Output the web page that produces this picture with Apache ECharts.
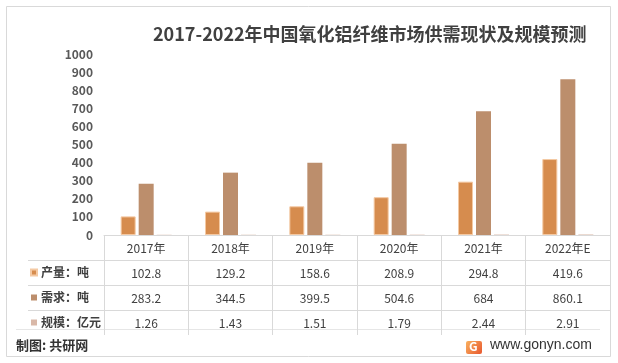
<!DOCTYPE html>
<html>
<head>
<meta charset="utf-8">
<script src="https://cdn.jsdelivr.net/npm/echarts@6/dist/echarts.min.js"></script>
<style>
html,body{margin:0;padding:0;background:#fff;}
#main{width:618px;height:363px;}
</style>
</head>
<body>
<div id="main"></div>
<script>
var categories = ['2017年', '2018年', '2019年', '2020年', '2021年', '2022年E'];
var production = [102.8, 129.2, 158.6, 208.9, 294.8, 419.6];
var demand = [283.2, 344.5, 399.5, 504.6, 684, 860.1];
var scale = [1.26, 1.43, 1.51, 1.79, 2.44, 2.91];
var seriesNames = ['产量：吨', '需求：吨', '规模：亿元'];
var yTicks = [0, 100, 200, 300, 400, 500, 600, 700, 800, 900, 1000];

var FONT = '"Noto Sans CJK SC", "Noto Sans", sans-serif';
var chart = echarts.init(document.getElementById('main'), null, {renderer: 'canvas'});

function rowAxis(values, offset) {
  return {
    type: 'category', data: categories, position: 'bottom', offset: offset,
    axisLine: {show: false}, axisTick: {show: false}, splitLine: {show: false},
    axisLabel: {margin: 7, fontSize: 12, color: '#404040', fontFamily: FONT,
      formatter: function (v, i) { return String(values[i]); }}
  };
}

var option = {
  backgroundColor: '#ffffff',
  animation: false,
  title: {
    text: '2017-2022年中国氧化铝纤维市场供需现状及规模预测',
    left: 148, top: 20,
    textStyle: {fontSize: 18, fontWeight: 'bold', color: '#404040', fontFamily: FONT}
  },
  legend: {
    orient: 'vertical', left: 30, top: 260, itemGap: 0, padding: 0,
    itemWidth: 6, itemHeight: 6, icon: 'rect', selectedMode: false,
    textStyle: {fontSize: 12, fontWeight: 'bold', color: '#404040', fontFamily: FONT, lineHeight: 25, padding: [0, 0, 0, -1]},
    data: seriesNames
  },
  grid: {left: 104, right: 8, top: 54, bottom: 128, containLabel: false},
  xAxis: [
    {
      type: 'category', data: categories, position: 'bottom',
      axisLine: {lineStyle: {color: '#d9d9d9', width: 1}},
      axisTick: {show: true, length: 100, alignWithLabel: false, lineStyle: {color: '#d9d9d9'}},
      axisLabel: {margin: 7, fontSize: 12, color: '#404040', fontFamily: FONT}
    },
    rowAxis(production, 25),
    rowAxis(demand, 50),
    rowAxis(scale, 75)
  ],
  yAxis: {
    type: 'value', min: yTicks[0], max: yTicks[yTicks.length - 1], interval: 100,
    axisLine: {show: false}, axisTick: {show: false}, splitLine: {show: false},
    axisLabel: {margin: 11, fontSize: 12, fontWeight: 'bold', color: '#595959', fontFamily: FONT,
      formatter: function (v) { return String(v); }}
  },
  series: [
    {name: seriesNames[0], type: 'bar', data: production, barWidth: 15, barGap: '20%',
      itemStyle: {color: '#D68C4E', borderColor: '#F4C9A3', borderWidth: 1}},
    {name: seriesNames[1], type: 'bar', data: demand, barWidth: 15, barGap: '20%',
      itemStyle: {color: '#BC8E6C'}},
    {name: seriesNames[2], type: 'bar', data: scale, barWidth: 15, barGap: '20%',
      itemStyle: {color: '#D9B8A8'}}
  ],
  graphic: [
    {type: 'rect', shape: {x: 6.5, y: 6.5, width: 604, height: 350}, style: {fill: 'none', stroke: '#d9d9d9', lineWidth: 1}, silent: true},
    {type: 'line', shape: {x1: 28, y1: 260.5, x2: 610, y2: 260.5}, style: {stroke: '#d9d9d9', lineWidth: 1}},
    {type: 'line', shape: {x1: 28, y1: 285.5, x2: 610, y2: 285.5}, style: {stroke: '#d9d9d9', lineWidth: 1}},
    {type: 'line', shape: {x1: 28, y1: 310.5, x2: 610, y2: 310.5}, style: {stroke: '#d9d9d9', lineWidth: 1}},
    {type: 'line', shape: {x1: 16, y1: 329.5, x2: 600, y2: 329.5}, style: {stroke: '#e6e6e6', lineWidth: 1}},
    {type: 'text', left: 16, top: 339, style: {text: '制图: 共研网', fontSize: 13, fontWeight: 'bold', fill: '#333333', fontFamily: FONT}},
    {type: 'rect', shape: {x: 466, y: 341, width: 16, height: 13, r: 2},
      style: {fill: new echarts.graphic.LinearGradient(0, 0, 1, 1, [{offset: 0, color: '#F9B15F'}, {offset: 1, color: '#E8572E'}])}},
    {type: 'text', left: 469, top: 340, style: {text: 'G', fontSize: 12, fontWeight: 'bold', fill: '#ffffff', fontFamily: FONT}},
    {type: 'text', left: 490, top: 338, style: {text: 'www.gonyn.com', fontSize: 14, fill: '#333333', fontFamily: '"Liberation Sans", Arial, sans-serif'}}
  ]
};
chart.setOption(option);
</script>
</body>
</html>
